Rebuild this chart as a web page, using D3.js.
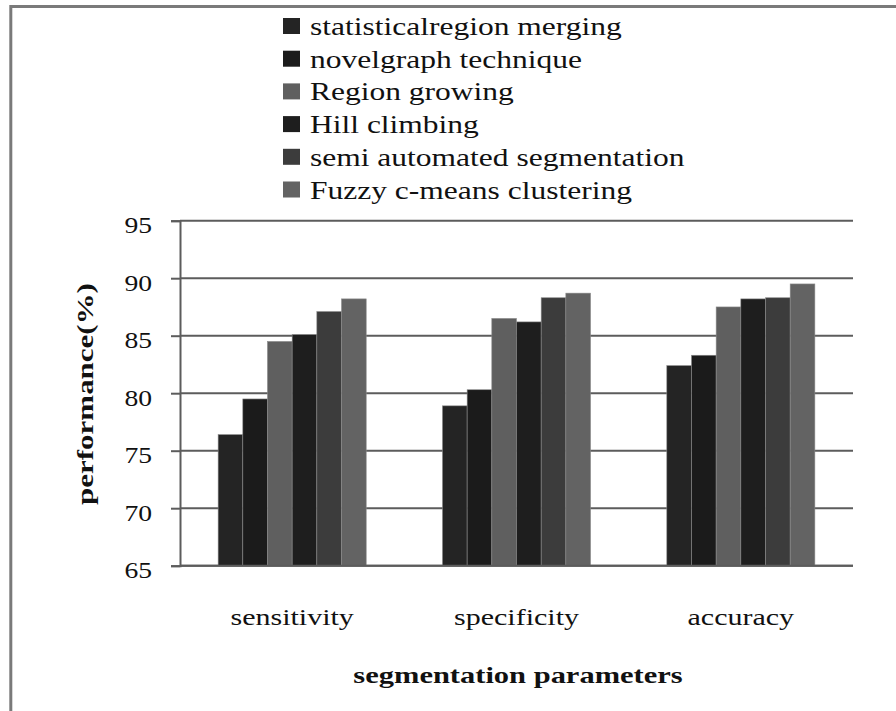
<!DOCTYPE html>
<html>
<head>
<meta charset="utf-8">
<script src="https://cdn.jsdelivr.net/npm/d3@7"></script>
<style>
  html, body { margin: 0; padding: 0; background: #fff; }
  svg { display: block; }
  text { font-family: "Liberation Serif", "Times New Roman", serif; fill: #111; }
</style>
</head>
<body>
<svg id="chart" width="896" height="711"></svg>
<script>
// ---- data ----
const categories = ["sensitivity", "specificity", "accuracy"];
const seriesNames = [
  "statisticalregion merging",
  "novelgraph technique",
  "Region growing",
  "Hill climbing",
  "semi automated segmentation",
  "Fuzzy c-means clustering"
];
const statisticalRegionMerging  = [76.4, 78.9, 82.4];
const novelGraphTechnique       = [79.5, 80.3, 83.3];
const regionGrowing             = [84.5, 86.5, 87.5];
const hillClimbing              = [85.1, 86.2, 88.2];
const semiAutomatedSegmentation = [87.1, 88.3, 88.3];
const fuzzyCMeansClustering     = [88.2, 88.7, 89.5];
const yTicks = [65, 70, 75, 80, 85, 90, 95];
const seriesColors = ["#242424", "#1b1b1b", "#5f5f5f", "#1e1e1e", "#3c3c3c", "#636363"];

const seriesValues = [
  statisticalRegionMerging, novelGraphTechnique, regionGrowing,
  hillClimbing, semiAutomatedSegmentation, fuzzyCMeansClustering
];

// ---- layout ----
const FONT = "Liberation Serif, Times New Roman, serif";
const svg = d3.select("#chart");
const plot = { left: 180, right: 853, top: 220.7, bottom: 565.7 };

function stretch(sel, k) {
  sel.each(function () {
    const w = this.getComputedTextLength();
    d3.select(this).attr("textLength", w * k).attr("lengthAdjust", "spacingAndGlyphs");
  });
}

// outer frame (left + top edges visible)
svg.append("path")
  .attr("d", `M10.8,711 L10.8,6.5 L896,6.5`)
  .attr("fill", "none").attr("stroke", "#7a7a7a").attr("stroke-width", 3);

const y = d3.scaleLinear().domain([65, 95]).range([plot.bottom, plot.top]);
const x0 = d3.scaleBand().domain(categories).range([plot.left, plot.right])
  .paddingInner(0.34).paddingOuter(0.17);
const x1 = d3.scaleBand().domain(d3.range(seriesNames.length)).range([0, x0.bandwidth()]);
const color = d3.scaleOrdinal().domain(d3.range(seriesNames.length)).range(seriesColors);

// gridlines
svg.append("g")
  .selectAll("line").data(yTicks).join("line")
  .attr("x1", plot.left).attr("x2", plot.right)
  .attr("y1", d => y(d)).attr("y2", d => y(d))
  .attr("stroke", "#5c5c5c").attr("stroke-width", 2);

// bars
const groups = svg.append("g").selectAll("g").data(categories).join("g")
  .attr("transform", c => `translate(${x0(c)},0)`);
groups.selectAll("rect")
  .data((c, ci) => seriesValues.map((vals, si) => ({ si, v: vals[ci] })))
  .join("rect")
  .attr("x", d => x1(d.si))
  .attr("width", x1.bandwidth())
  .attr("y", d => y(d.v))
  .attr("height", d => y(65) - y(d.v))
  .attr("fill", d => color(d.si))
  .attr("stroke", "#8a8a8a").attr("stroke-width", 0.6);

// y axis
const yAxis = svg.append("g")
  .attr("transform", `translate(${plot.left},0)`)
  .call(d3.axisLeft(y).tickValues(yTicks).tickSize(9).tickPadding(19).tickFormat(d3.format("d")));
yAxis.attr("font-family", FONT);
yAxis.select(".domain").attr("stroke", "#5c5c5c").attr("stroke-width", 2);
yAxis.selectAll(".tick line").attr("stroke", "#5c5c5c").attr("stroke-width", 2);
yAxis.selectAll(".tick text")
  .attr("font-family", FONT)
  .attr("font-size", 24).attr("fill", "#111").attr("dy", "0.5em")
  .call(stretch, 1.15);

// baseline
svg.append("line")
  .attr("x1", plot.left).attr("x2", plot.right)
  .attr("y1", y(65)).attr("y2", y(65))
  .attr("stroke", "#5c5c5c").attr("stroke-width", 2);

// category labels
svg.append("g").selectAll("text").data(categories).join("text")
  .attr("x", c => x0(c) + x0.bandwidth() / 2)
  .attr("y", 625)
  .attr("text-anchor", "middle")
  .attr("font-family", FONT)
  .attr("font-size", 24)
  .text(c => c)
  .call(stretch, 1.25);

// axis titles
svg.append("text")
  .attr("x", 518).attr("y", 683)
  .attr("text-anchor", "middle")
  .attr("font-family", FONT)
  .attr("font-size", 24).attr("font-weight", "bold")
  .text("segmentation parameters")
  .call(stretch, 1.27);

svg.append("text")
  .attr("transform", "translate(93,394) rotate(-90)")
  .attr("text-anchor", "middle")
  .attr("font-family", FONT)
  .attr("font-size", 24).attr("font-weight", "bold")
  .text("performance(%)")
  .call(stretch, 1.29);

// legend
const legend = svg.append("g").selectAll("g").data(seriesNames).join("g")
  .attr("transform", (d, i) => `translate(283,${35 + i * 32.7})`);
legend.append("rect")
  .attr("x", 0).attr("y", -17).attr("width", 17).attr("height", 16)
  .attr("fill", (d, i) => color(i));
legend.append("text")
  .attr("x", 27).attr("y", 0)
  .attr("font-family", FONT)
  .attr("font-size", 25)
  .text(d => d)
  .call(stretch, 1.26);
</script>
</body>
</html>
